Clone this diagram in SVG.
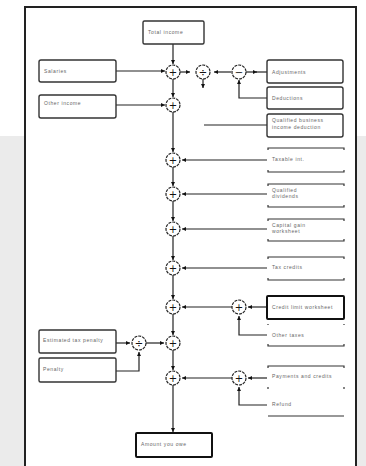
<svg xmlns="http://www.w3.org/2000/svg" width="366" height="466" viewBox="0 0 366 466">
<style>
.box{fill:#fff;stroke:#333;stroke-width:1.4}
.thick{stroke:#111;stroke-width:2}
.open{fill:none;stroke:#333;stroke-width:1.2}
.op{fill:#fff;stroke:#222;stroke-width:1.2;stroke-dasharray:3 1}
.sym{font-family:"DejaVu Sans",sans-serif;font-size:10px;fill:#111;text-anchor:middle}
.lbl{font-family:"Liberation Sans",Arial,sans-serif;font-size:5px;fill:#666;letter-spacing:0.6px}
.ln{fill:none;stroke:#222;stroke-width:1.2}
</style>
<defs>
<marker id="ah" markerUnits="userSpaceOnUse" markerWidth="5" markerHeight="5" refX="4" refY="2.5" orient="auto">
<path d="M0,0.5 L4,2.5 L0,4.5 z" fill="#111"/>
</marker>
</defs>
<rect x="0" y="0" width="366" height="466" fill="#fff"/>
<rect x="0" y="136" width="366" height="330" fill="#ebebeb"/>
<rect x="25" y="7" width="331" height="470" fill="#fff"/>
<path d="M25,466 V7 H356 V466" fill="none" stroke="#222" stroke-width="2"/>

<g id="connectors">
<path class="ln" d="M173,44 V64" marker-end="url(#ah)"/>
<path class="ln" d="M173,79 V97" marker-end="url(#ah)"/>
<path class="ln" d="M173,112 V152" marker-end="url(#ah)"/>
<path class="ln" d="M173,167 V186" marker-end="url(#ah)"/>
<path class="ln" d="M173,201 V221" marker-end="url(#ah)"/>
<path class="ln" d="M173,236 V260" marker-end="url(#ah)"/>
<path class="ln" d="M173,275 V299" marker-end="url(#ah)"/>
<path class="ln" d="M173,314 V335" marker-end="url(#ah)"/>
<path class="ln" d="M173,350 V370" marker-end="url(#ah)"/>
<path class="ln" d="M173,385 V432" marker-end="url(#ah)"/>
<path class="ln" d="M116,71 H165" marker-end="url(#ah)"/>
<path class="ln" d="M116,105 H165" marker-end="url(#ah)"/>
<path class="ln" d="M180,72 H190" marker-end="url(#ah)"/>
<path class="ln" d="M231,72 H214" marker-end="url(#ah)"/>
<path class="ln" d="M203,79 V88" marker-end="url(#ah)"/>
<path class="ln" d="M246,72 H257" marker-end="url(#ah)"/>
<path class="ln" d="M256,72 H267"/>
<path class="ln" d="M267,98 H239 V80" marker-end="url(#ah)"/>
<path class="ln" d="M204,125 H267"/>
<path class="ln" d="M267,160 H182" marker-end="url(#ah)"/>
<path class="ln" d="M267,194 H182" marker-end="url(#ah)"/>
<path class="ln" d="M267,229 H182" marker-end="url(#ah)"/>
<path class="ln" d="M267,268 H182" marker-end="url(#ah)"/>
<path class="ln" d="M232,307 H182" marker-end="url(#ah)"/>
<path class="ln" d="M267,307 H248" marker-end="url(#ah)"/>
<path class="ln" d="M267,335 H239 V316" marker-end="url(#ah)"/>
<path class="ln" d="M232,378 H182" marker-end="url(#ah)"/>
<path class="ln" d="M267,378 H248" marker-end="url(#ah)"/>
<path class="ln" d="M267,405 H239 V387" marker-end="url(#ah)"/>
<path class="ln" d="M116,343 H130" marker-end="url(#ah)"/>
<path class="ln" d="M146,343 H164" marker-end="url(#ah)"/>
<path class="ln" d="M116,371 H139 V352" marker-end="url(#ah)"/>
</g>

<g id="n-top"><rect class="box" x="143" y="21" width="61" height="23" rx="1.5"/><text class="lbl" x="148" y="34">Total income</text></g>
<g id="n-l1"><rect class="box" x="39" y="60" width="77" height="22" rx="2"/><text class="lbl" x="44" y="73">Salaries</text></g>
<g id="n-l2"><rect class="box" x="39" y="95" width="77" height="23" rx="2"/><text class="lbl" x="44" y="105">Other income</text></g>
<g id="n-r1"><rect class="box" x="267" y="60" width="76" height="23" rx="2"/><text class="lbl" x="272" y="74">Adjustments</text></g>
<g id="n-r2"><rect class="box" x="267" y="87" width="76" height="22" rx="2"/><text class="lbl" x="272" y="100">Deductions</text></g>
<g id="n-r3"><rect class="box" x="267" y="114" width="76" height="23" rx="2"/><text class="lbl" x="272" y="122">Qualified business</text><text class="lbl" x="272" y="129">income deduction</text></g>

<g id="n-a"><path class="open" d="M268,150 V148 H344 V150 M268,170 V172 H344 V170"/><text class="lbl" x="272" y="161">Taxable int.</text></g>
<g id="n-b"><path class="open" d="M268,186 V184 H344 V186 M268,205 V207 H344 V205"/><text class="lbl" x="272" y="192">Qualified</text><text class="lbl" x="272" y="198">dividends</text></g>
<g id="n-c"><path class="open" d="M268,221 V219 H344 V221 M268,239 V241 H344 V239"/><text class="lbl" x="272" y="227">Capital gain</text><text class="lbl" x="272" y="233">worksheet</text></g>
<g id="n-d"><path class="open" d="M268,259 V257 H344 V259 M268,278 V280 H344 V278"/><text class="lbl" x="272" y="269">Tax credits</text></g>
<g id="n-e"><rect class="box thick" x="267" y="296" width="77" height="23" rx="1"/><text class="lbl" x="272" y="309">Credit limit worksheet</text></g>
<g id="n-f"><path class="open" d="M268,324 V325 M344,324 V325 M268,344 V346 H344 V344"/><text class="lbl" x="272" y="337">Other taxes</text></g>
<g id="n-g"><path class="open" d="M268,368 V366 H344 V368 M268,387 V389 M344,387 V389"/><text class="lbl" x="272" y="378">Payments and credits</text></g>
<g id="n-h"><path class="open" d="M268,416 H344"/><text class="lbl" x="272" y="406">Refund</text></g>
<g id="n-l3"><rect class="box" x="39" y="330" width="77" height="23" rx="1.5"/><text class="lbl" x="43" y="342">Estimated tax penalty</text></g>
<g id="n-l4"><rect class="box" x="39" y="358" width="77" height="24" rx="1.5"/><text class="lbl" x="43" y="371">Penalty</text></g>
<g id="n-bottom"><rect class="box thick" x="136" y="433" width="76" height="24" rx="1"/><text class="lbl" x="141" y="446">Amount you owe</text></g>

<g id="op1"><circle class="op" cx="173" cy="72" r="7"/><text class="sym" x="173" y="75.5">+</text></g>
<g id="op2"><circle class="op" cx="173" cy="105" r="7"/><text class="sym" x="173" y="108.5">+</text></g>
<g id="op-div1"><circle class="op" cx="203" cy="72" r="7"/><text class="sym" x="203" y="75.5">÷</text></g>
<g id="op-sub1"><circle class="op" cx="239" cy="72" r="7"/><text class="sym" x="239" y="75.5">−</text></g>
<g id="op3"><circle class="op" cx="173" cy="160" r="7"/><text class="sym" x="173" y="163.5">+</text></g>
<g id="op4"><circle class="op" cx="173" cy="194" r="7"/><text class="sym" x="173" y="197.5">+</text></g>
<g id="op5"><circle class="op" cx="173" cy="229" r="7"/><text class="sym" x="173" y="232.5">+</text></g>
<g id="op6"><circle class="op" cx="173" cy="268" r="7"/><text class="sym" x="173" y="271.5">+</text></g>
<g id="op7"><circle class="op" cx="173" cy="307" r="7"/><text class="sym" x="173" y="310.5">+</text></g>
<g id="op7b"><circle class="op" cx="239" cy="307" r="7"/><text class="sym" x="239" y="310.5">+</text></g>
<g id="op8"><circle class="op" cx="173" cy="343" r="7"/><text class="sym" x="173" y="346.5">+</text></g>
<g id="op-div2"><circle class="op" cx="139" cy="343" r="7"/><text class="sym" x="139" y="346.5">÷</text></g>
<g id="op9"><circle class="op" cx="173" cy="378" r="7"/><text class="sym" x="173" y="381.5">+</text></g>
<g id="op9b"><circle class="op" cx="239" cy="378" r="7"/><text class="sym" x="239" y="381.5">+</text></g>
</svg>
